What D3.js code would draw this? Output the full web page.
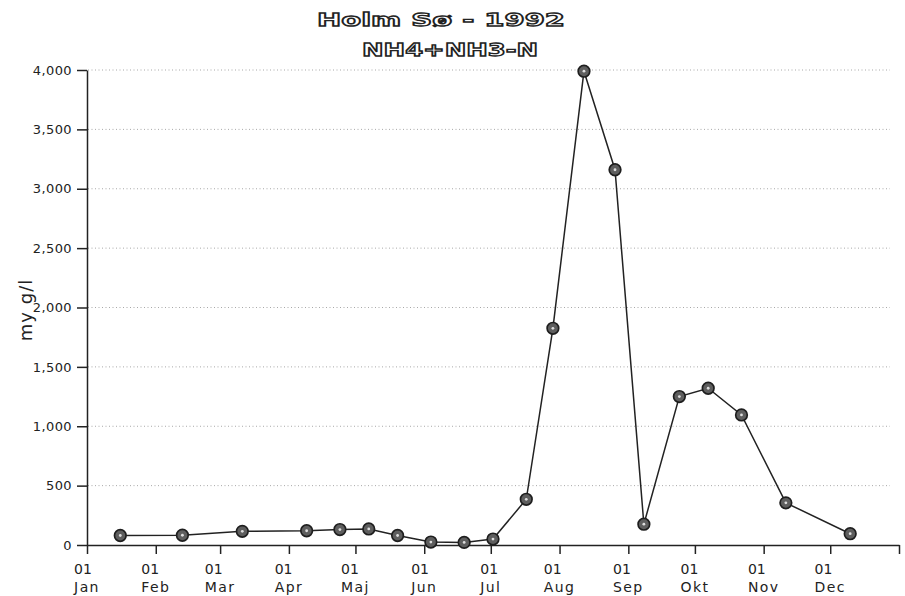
<!DOCTYPE html>
<html>
<head>
<meta charset="utf-8">
<script src="https://cdn.jsdelivr.net/npm/d3@7"></script>
<style>
  body { margin: 0; background: #fff; }
  svg { display: block; }
</style>
</head>
<body>
<svg id="chart" width="905" height="596"></svg>
<script>
// sample dates and NH4+NH3-N values (my g/l), Holm Sø 1992
var sampleDates = ["1992-01-16", "1992-02-13", "1992-03-11", "1992-04-09", "1992-04-24",
  "1992-05-07", "1992-05-20", "1992-06-04", "1992-06-19", "1992-07-02",
  "1992-07-17", "1992-07-29", "1992-08-12", "1992-08-26", "1992-09-08",
  "1992-09-24", "1992-10-07", "1992-10-22", "1992-11-11", "1992-12-10"];
var sampleValues = [80, 82, 115, 120, 130, 135, 80, 25, 22, 50,
  385, 1825, 3990, 3160, 175, 1250, 1320, 1095, 355, 95];
var monthNames = ["Jan", "Feb", "Mar", "Apr", "Maj", "Jun", "Jul", "Aug", "Sep", "Okt", "Nov", "Dec"];
var yTicks = [0, 500, 1000, 1500, 2000, 2500, 3000, 3500, 4000];
var titleLines = ["Holm Sø - 1992", "NH4+NH3-N"];
var yLabel = "my g/l";

var parse = d3.timeParse("%Y-%m-%d");
var data = sampleDates.map(function(d, i) { return { date: parse(d), value: sampleValues[i] }; });

var svg = d3.select("#chart");
var ink = "#222";

var x = d3.scaleTime()
  .domain([new Date(1992, 0, 1), new Date(1993, 0, 1)])
  .range([87, 899]);
var y = d3.scaleLinear().domain([0, 4000]).range([545, 70]);

var monthStarts = d3.timeMonth.range(new Date(1992, 0, 1), new Date(1993, 0, 2));

// gridlines
svg.append("g").selectAll("line")
  .data(yTicks.filter(function(t) { return t > 0; }))
  .enter().append("line")
  .attr("x1", 88).attr("x2", 890)
  .attr("y1", function(d) { return y(d); })
  .attr("y2", function(d) { return y(d); })
  .attr("stroke", "#a8a8a8")
  .attr("stroke-width", 1)
  .attr("stroke-dasharray", "1,2.5");

// axes
var yAxis = d3.axisLeft(y).tickValues(yTicks).tickSize(10).tickSizeOuter(0).tickPadding(5)
  .tickFormat(d3.format(","));
var gy = svg.append("g").attr("transform", "translate(87,0)").call(yAxis);
gy.selectAll("text").attr("font-family", "DejaVu Sans").attr("font-size", 13)
  .attr("letter-spacing", 0.4).attr("fill", ink);

var xAxis = d3.axisBottom(x).tickValues(monthStarts).tickSize(9).tickSizeOuter(0).tickFormat("");
var gx = svg.append("g").attr("transform", "translate(0,545)").call(xAxis);

svg.selectAll(".domain, .tick line").attr("stroke", ink).attr("stroke-width", 1.5);

// x labels: "01" over month name, left aligned, block centred on the tick
var labels = svg.append("g").attr("font-family", "DejaVu Sans").attr("font-size", 14).attr("fill", ink);
monthNames.forEach(function(name, i) {
  var cx = x(monthStarts[i]);
  var t1 = labels.append("text").attr("y", 574).text("01");
  var t2 = labels.append("text").attr("y", 592).attr("letter-spacing", 1.4).text(name);
  var w = Math.max(t1.node().getComputedTextLength(), t2.node().getComputedTextLength());
  t1.attr("x", cx - w / 2);
  t2.attr("x", cx - w / 2);
});

// y label
svg.append("text")
  .attr("transform", "translate(32,310) rotate(-90)")
  .attr("text-anchor", "middle")
  .attr("font-family", "DejaVu Sans")
  .attr("font-size", 18)
  .attr("letter-spacing", 1)
  .attr("fill", ink)
  .text(yLabel);

// title, hollow lettering
var titleX = [441, 450], titleY = [25.5, 56], titleLen = [248, 176];
titleLines.forEach(function(t, i) {
  svg.append("text")
    .attr("x", titleX[i]).attr("y", titleY[i])
    .attr("text-anchor", "middle")
    .attr("font-family", "DejaVu Sans")
    .attr("font-weight", "bold")
    .attr("font-size", 18)
    .attr("textLength", titleLen[i])
    .attr("lengthAdjust", "spacingAndGlyphs")
    .attr("fill", "#fff")
    .attr("stroke", ink)
    .attr("stroke-width", 1.3)
    .text(t);
});

// series line
var line = d3.line()
  .x(function(d) { return x(d.date); })
  .y(function(d) { return y(d.value); });
svg.append("path")
  .datum(data)
  .attr("d", line)
  .attr("fill", "none")
  .attr("stroke", ink)
  .attr("stroke-width", 1.5);

// markers
var pts = svg.append("g").selectAll("g").data(data).enter().append("g")
  .attr("transform", function(d) { return "translate(" + x(d.date) + "," + y(d.value) + ")"; });
pts.append("circle").attr("r", 5.8).attr("fill", "#5e5e5e").attr("stroke", "#1e1e1e").attr("stroke-width", 1.7);
pts.append("circle").attr("r", 1.4).attr("fill", "#ddd");
</script>
</body>
</html>
